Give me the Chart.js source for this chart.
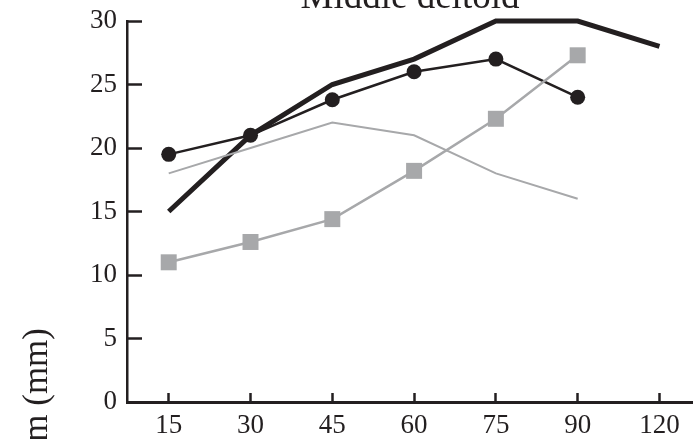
<!DOCTYPE html>
<html>
<head>
<meta charset="utf-8">
<script src="https://cdn.jsdelivr.net/npm/chart.js@4"></script>
<style>
  html, body { margin: 0; padding: 0; background: #fff; }
  #wrap { width: 693px; height: 439px; }
</style>
</head>
<body>
<div id="wrap"><canvas id="myChart"></canvas></div>
<script>
// abduction angles (deg)
const angles = ['15', '30', '45', '60', '75', '90', '120'];
const yTicks = [0, 5, 10, 15, 20, 25, 30];

// moment arm (mm)
const thickLine = [15, 21, 25, 27, 30, 30, 28];
const blackCircles = [19.5, 21, 23.8, 26, 27, 24];
const graySquares = [11, 12.6, 14.4, 18.2, 22.3, 27.3];
const thinGray = [18, 20, 22, 21, 18, 16];

const titleText = 'Middle deltoid';
const yLabel = 'Moment arm (mm)';

const ink = '#231f20';
const gray = '#a7a8aa';
const serif = '"Liberation Serif", "DejaVu Serif", serif';

const pts = arr => arr.map((v, i) => ({ x: i, y: v }));

// title and y label sit partly off the canvas in the reference
const textPlugin = {
  id: 'extraText',
  afterDraw(chart) {
    const ctx = chart.ctx;
    const area = chart.chartArea;
    ctx.save();
    ctx.fillStyle = ink;
    ctx.font = '37px ' + serif;
    ctx.textAlign = 'center';
    ctx.textBaseline = 'alphabetic';
    ctx.fillText(titleText, (area.left + area.right) / 2, area.top - 13);

    ctx.translate(47, 328);
    ctx.rotate(-Math.PI / 2);
    ctx.font = '35px ' + serif;
    ctx.textAlign = 'right';
    ctx.fillText(yLabel, 0, 0);
    ctx.restore();
  }
};

const chartDiv = document.getElementById('myChart');
new Chart(chartDiv, {
  type: 'line',
  data: {
    datasets: [
      {
        label: 'thin gray',
        data: pts(thinGray),
        borderColor: gray,
        borderWidth: 2,
        pointRadius: 0,
        clip: false
      },
      {
        label: 'gray squares',
        data: pts(graySquares),
        borderColor: gray,
        backgroundColor: gray,
        borderWidth: 2.5,
        pointStyle: 'rect',
        pointRadius: 11.3,
        pointBorderWidth: 0,
        clip: false
      },
      {
        label: 'black circles',
        data: pts(blackCircles),
        borderColor: ink,
        backgroundColor: ink,
        borderWidth: 2.5,
        pointStyle: 'circle',
        pointRadius: 7.5,
        pointBorderWidth: 0,
        clip: false
      },
      {
        label: 'thick',
        data: pts(thickLine),
        borderColor: ink,
        borderWidth: 5,
        pointRadius: 0,
        clip: false
      }
    ]
  },
  options: {
    responsive: true,
    maintainAspectRatio: false,
    animation: false,
    layout: { autoPadding: false, padding: { top: 21, right: 0, left: 0, bottom: 0 } },
    plugins: {
      legend: { display: false },
      tooltip: { enabled: false }
    },
    scales: {
      x: {
        type: 'linear',
        min: -0.51,
        max: 6.41,
        afterBuildTicks: scale => {
          scale.ticks = angles.map((a, i) => ({ value: i }));
        },
        afterFit: scale => {
          scale.height = 37;
          scale.paddingLeft = 0;
          scale.paddingRight = 0;
        },
        ticks: {
          callback: v => angles[v],
          color: ink,
          font: { family: serif, size: 27 },
          padding: 17,
          maxRotation: 0,
          autoSkip: false
        },
        grid: {
          drawOnChartArea: false,
          drawTicks: true,
          tickLength: -9,
          tickWidth: 2.5,
          tickColor: ink
        },
        border: { color: ink, width: 3 }
      },
      y: {
        min: 0,
        max: 30,
        afterBuildTicks: scale => {
          scale.ticks = yTicks.map(v => ({ value: v }));
        },
        afterFit: scale => {
          scale.width = 127;
          scale.paddingTop = 0;
          scale.paddingBottom = 0;
        },
        ticks: {
          color: ink,
          font: { family: serif, size: 27 },
          padding: 25
        },
        grid: {
          drawOnChartArea: false,
          drawTicks: true,
          tickLength: -15,
          tickWidth: 2.5,
          tickColor: ink
        },
        border: { color: ink, width: 2.5 }
      }
    }
  },
  plugins: [textPlugin]
});
</script>
</body>
</html>
